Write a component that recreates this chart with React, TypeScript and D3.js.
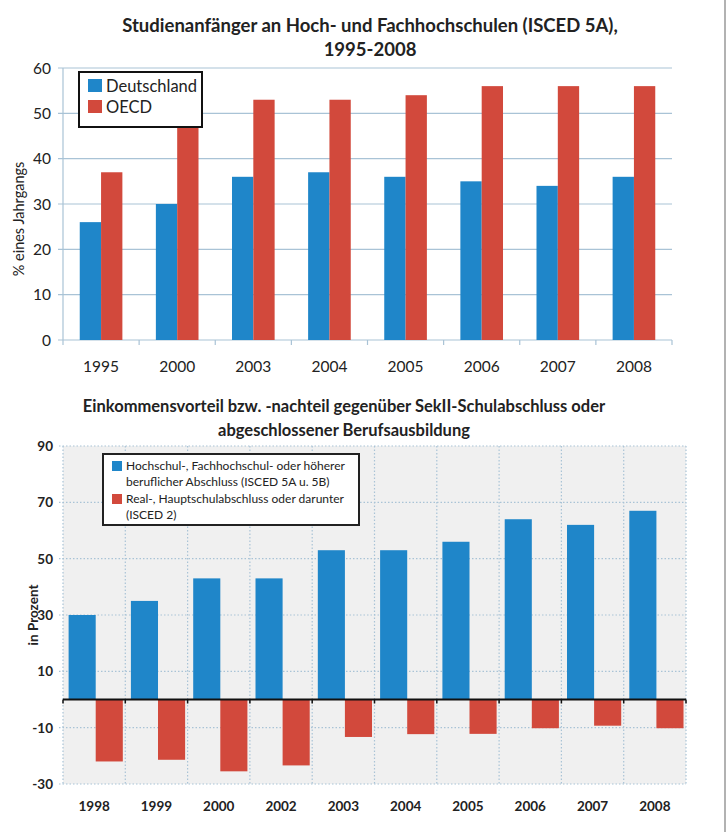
import React from "react";
import * as d3 from "d3";

const topYears = ["1995", "2000", "2003", "2004", "2005", "2006", "2007", "2008"];
const topDeutschland = [26, 30, 36, 37, 36, 35, 34, 36];
const topOECD = [37, 48, 53, 53, 54, 56, 56, 56];
const topTicks = [0, 10, 20, 30, 40, 50, 60];

const botYears = ["1998", "1999", "2000", "2002", "2003", "2004", "2005", "2006", "2007", "2008"];
const botHoch = [30, 35, 43, 43, 53, 53, 56, 64, 62, 67];
const botReal = [-22, -21.4, -25.5, -23.4, -13.3, -12.3, -12.2, -10.2, -9.3, -10.2];
const botTicks = [-30, -10, 10, 30, 50, 70, 90];

const BLUE = "#1f86c9";
const RED = "#d2493c";
const GRID = "#a9c3d6";
const FONT = "Lato, 'Open Sans', sans-serif";

export default function App() {
  // ---- top chart scales
  const tx0 = d3.scaleBand<string>().domain(topYears).range([63, 672]);
  const tbw = tx0.bandwidth();
  const tx1 = d3.scaleBand<string>().domain(["d", "o"]).range([tbw * 0.22, tbw * 0.78]);
  const ty = d3.scaleLinear().domain([0, 60]).range([340, 68]);

  // ---- bottom chart scales
  const bx0 = d3.scaleBand<string>().domain(botYears).range([63, 686]);
  const bbw = bx0.bandwidth();
  const bx1 = d3.scaleBand<string>().domain(["h", "r"]).range([bbw * 0.09, bbw * 0.96]);
  const by = d3.scaleLinear().domain([-30, 90]).range([784, 446]);

  const topBounds = topYears.map((_, i) => 63 + i * tbw).concat([672]);
  const botBounds = botYears.map((_, i) => 63 + i * bbw).concat([686]);

  return (
    <svg width={728} height={832} style={{ position: "absolute", left: 0, top: 0, background: "#fff" }} fontFamily={FONT}>
      <defs>
        <clipPath id="legClip">
          <rect x={80} y={73} width={121} height={53} />
        </clipPath>
      </defs>
      <rect x={0} y={0} width={728} height={832} fill="#fff" />
      <line x1={725} x2={725} y1={0} y2={832} stroke="#999" strokeWidth={1.5} />

      {/* ===== TOP CHART ===== */}
      <text x={370} y={32} textAnchor="middle" fontSize={18.5} fontWeight={700} fill="#222">
        Studienanfänger an Hoch- und Fachhochschulen (ISCED 5A),
      </text>
      <text x={370} y={56} textAnchor="middle" fontSize={18.5} fontWeight={700} fill="#222">
        1995-2008
      </text>

      {topTicks.map((t) => (
        <g key={"tg" + t}>
          <line x1={58} x2={672} y1={ty(t)} y2={ty(t)} stroke={GRID} strokeWidth={1.2} />
          <text x={51} y={ty(t) + 5.5} textAnchor="end" fontSize={15.5} fill="#222">
            {t}
          </text>
        </g>
      ))}
      <line x1={63} x2={63} y1={ty(60)} y2={ty(0)} stroke={GRID} strokeWidth={1.2} />
      {topBounds.map((b, i) => (
        <line key={"tb" + i} x1={b} x2={b} y1={ty(0)} y2={ty(0) + 5} stroke={GRID} strokeWidth={1.2} />
      ))}

      {topYears.map((yr, i) => (
        <g key={"tbar" + yr}>
          <rect
            x={tx0(yr)! + tx1("d")!}
            y={ty(topDeutschland[i])}
            width={tx1.bandwidth()}
            height={ty(0) - ty(topDeutschland[i])}
            fill={BLUE}
          />
          <rect
            x={tx0(yr)! + tx1("o")!}
            y={ty(topOECD[i])}
            width={tx1.bandwidth()}
            height={ty(0) - ty(topOECD[i])}
            fill={RED}
          />
          <text x={tx0(yr)! + tbw / 2} y={372} textAnchor="middle" fontSize={15.5} fill="#222">
            {yr}
          </text>
        </g>
      ))}

      <text
        transform={`translate(24,219) rotate(-90)`}
        textAnchor="middle"
        fontSize={14.5}
        fill="#222"
      >
        % eines Jahrgangs
      </text>

      {/* top legend */}
      <rect x={79} y={72} width={123} height={55} fill="#fff" stroke="#111" strokeWidth={2} />
      <g clipPath="url(#legClip)">
        <rect x={88} y={79} width={14} height={13} fill={BLUE} />
        <rect x={88} y={100} width={14} height={13} fill={RED} />
        <text x={106} y={91.5} fontSize={16.5} fill="#222">Deutschland</text>
        <text x={106} y={112.5} fontSize={16.5} fill="#222">OECD</text>
      </g>

      {/* ===== BOTTOM CHART ===== */}
      <text x={344} y={412} textAnchor="middle" fontSize={16.5} fontWeight={700} fill="#222">
        Einkommensvorteil bzw. -nachteil gegenüber SekII-Schulabschluss oder
      </text>
      <text x={344} y={436} textAnchor="middle" fontSize={16.5} fontWeight={700} fill="#222">
        abgeschlossener Berufsausbildung
      </text>

      <rect x={63} y={by(90)} width={686 - 63} height={by(-30) - by(90)} fill="#f0f0f0" />
      {botTicks.map((t) => (
        <g key={"bg" + t}>
          <line
            x1={59}
            x2={686}
            y1={by(t)}
            y2={by(t)}
            stroke={GRID}
            strokeWidth={1.2}
            strokeDasharray="1.5,2"
          />
          <text x={53} y={by(t) + 5} textAnchor="end" fontSize={13.5} fontWeight={700} fill="#222">
            {t}
          </text>
        </g>
      ))}
      {botBounds.map((b, i) => (
        <line
          key={"bv" + i}
          x1={b}
          x2={b}
          y1={by(90)}
          y2={by(-30)}
          stroke={GRID}
          strokeWidth={1.2}
          strokeDasharray="1.5,2"
        />
      ))}

      {botYears.map((yr, i) => (
        <g key={"bbar" + yr}>
          <rect
            x={bx0(yr)! + bx1("h")!}
            y={by(botHoch[i])}
            width={bx1.bandwidth()}
            height={by(0) - by(botHoch[i])}
            fill={BLUE}
          />
          <rect
            x={bx0(yr)! + bx1("r")!}
            y={by(0)}
            width={bx1.bandwidth()}
            height={by(botReal[i]) - by(0)}
            fill={RED}
          />
          <text x={bx0(yr)! + bbw / 2} y={811} textAnchor="middle" fontSize={13.5} fontWeight={700} fill="#222">
            {yr}
          </text>
        </g>
      ))}

      <line x1={63} x2={686} y1={by(0)} y2={by(0)} stroke="#111" strokeWidth={2} />
      {botBounds.map((b, i) => (
        <line key={"bt" + i} x1={b} x2={b} y1={by(0)} y2={by(0) + 4} stroke="#111" strokeWidth={1.5} />
      ))}

      <text
        transform={`translate(38,615) rotate(-90)`}
        textAnchor="middle"
        fontSize={13.5}
        fontWeight={700}
        fill="#222"
      >
        in Prozent
      </text>

      {/* bottom legend */}
      <rect x={103} y={454} width={256} height={71} fill="#fff" stroke="#222" strokeWidth={2} />
      <rect x={112} y={461} width={10} height={10} fill={BLUE} />
      <rect x={112} y={494} width={10} height={10} fill={RED} />
      <text x={126} y={470} fontSize={12} fill="#222">Hochschul-, Fachhochschul- oder höherer</text>
      <text x={126} y={486} fontSize={12} fill="#222">beruflicher Abschluss (ISCED 5A u. 5B)</text>
      <text x={126} y={503} fontSize={12} fill="#222">Real-, Hauptschulabschluss oder darunter</text>
      <text x={126} y={519} fontSize={12} fill="#222">(ISCED 2)</text>
    </svg>
  );
}
